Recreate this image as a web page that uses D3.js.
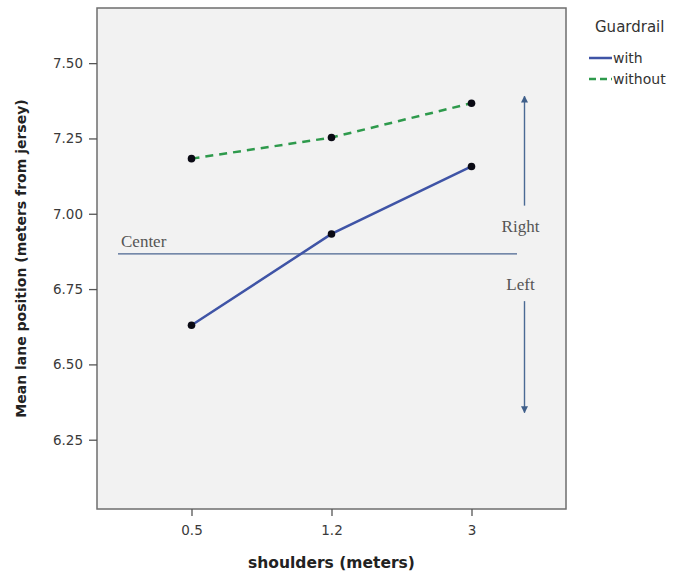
<!DOCTYPE html>
<html>
<head>
<meta charset="utf-8">
<script src="https://cdn.jsdelivr.net/npm/d3@7"></script>
<style>
  body { margin: 0; background: #fff; }
  .axis text { font-family: "DejaVu Sans", sans-serif; font-size: 13.5px; fill: #3a3a3a; }
  .axis path, .axis line { stroke: #555; stroke-width: 1.3; }
</style>
</head>
<body>
<div id="chart"></div>
<script>
// shoulder widths (categories) and guardrail series
const shoulders = ["0.5", "1.2", "3"];
const withGuardrail = [6.63, 6.933, 7.157];
const withoutGuardrail = [7.183, 7.253, 7.367];
const yTicks = [6.25, 6.50, 6.75, 7.00, 7.25, 7.50];

// annotation values (lane position)
const centerValue = 6.867;
const rightArrow = [7.027, 7.39];
const leftArrow = [6.71, 6.34];

const width = 678, height = 577;
const margin = { top: 8, right: 112, bottom: 68, left: 97 };
const w = width - margin.left - margin.right;
const h = height - margin.top - margin.bottom;

const svg = d3.select("#chart").append("svg")
  .attr("width", width)
  .attr("height", height);

const g = svg.append("g")
  .attr("transform", "translate(" + margin.left + "," + margin.top + ")");

const x = d3.scalePoint()
  .domain(shoulders)
  .range([0, w])
  .padding(0.675);

const y = d3.scaleLinear()
  .domain([6.02, 7.683])
  .range([h, 0]);

// plot background
g.append("rect")
  .attr("width", w)
  .attr("height", h)
  .attr("fill", "#f2f2f2")
  .attr("stroke", "#6e6e6e")
  .attr("stroke-width", 1.5);

// axes
g.append("g")
  .attr("class", "axis")
  .attr("transform", "translate(0," + h + ")")
  .call(d3.axisBottom(x).tickSize(7).tickPadding(9))
  .call(s => s.select(".domain").remove());

g.append("g")
  .attr("class", "axis")
  .call(d3.axisLeft(y).tickValues(yTicks).tickFormat(d3.format(".2f")).tickSize(8).tickPadding(6))
  .call(s => s.select(".domain").remove());

// axis titles
svg.append("text")
  .attr("x", margin.left + w / 2)
  .attr("y", 568)
  .attr("text-anchor", "middle")
  .style("font-family", "'DejaVu Sans', sans-serif")
  .style("font-size", "15.5px")
  .style("font-weight", "bold")
  .style("fill", "#222")
  .text("shoulders (meters)");

svg.append("text")
  .attr("transform", "translate(26," + (margin.top + h / 2) + ") rotate(-90)")
  .attr("text-anchor", "middle")
  .style("font-family", "'DejaVu Sans', sans-serif")
  .style("font-size", "14px")
  .style("font-weight", "bold")
  .style("fill", "#222")
  .text("Mean lane position (meters from jersey)");

// center line and labels
const serif = "'Liberation Serif', 'DejaVu Serif', serif";
g.append("line")
  .attr("x1", 21).attr("x2", 420)
  .attr("y1", y(centerValue)).attr("y2", y(centerValue))
  .attr("stroke", "#4a6590")
  .attr("stroke-width", 1.3);

g.append("text")
  .attr("x", 24).attr("y", y(centerValue) - 7)
  .style("font-family", serif).style("font-size", "17px").style("fill", "#555")
  .text("Center");

g.append("text")
  .attr("x", x("3") + 49).attr("y", y(centerValue) - 22)
  .attr("text-anchor", "middle")
  .style("font-family", serif).style("font-size", "17px").style("fill", "#555")
  .text("Right");

g.append("text")
  .attr("x", x("3") + 49).attr("y", y(centerValue) + 36)
  .attr("text-anchor", "middle")
  .style("font-family", serif).style("font-size", "17px").style("fill", "#555")
  .text("Left");

// arrows
svg.append("defs").append("marker")
  .attr("id", "arrow")
  .attr("viewBox", "0 0 10 10")
  .attr("refX", 9).attr("refY", 5)
  .attr("markerWidth", 5).attr("markerHeight", 5)
  .attr("orient", "auto")
  .append("path")
  .attr("d", "M0,0 L10,5 L0,10 Z")
  .attr("fill", "#3f5f8a");

[rightArrow, leftArrow].forEach(a => {
  g.append("line")
    .attr("x1", x("3") + 53).attr("x2", x("3") + 53)
    .attr("y1", y(a[0])).attr("y2", y(a[1]))
    .attr("stroke", "#4a6a94")
    .attr("stroke-width", 1.4)
    .attr("marker-end", "url(#arrow)");
});

// series lines
const line = d3.line()
  .x((d, i) => x(shoulders[i]))
  .y(d => y(d));

g.append("path")
  .datum(withGuardrail)
  .attr("fill", "none")
  .attr("stroke", "#3f54a6")
  .attr("stroke-width", 2.5)
  .attr("d", line);

g.append("path")
  .datum(withoutGuardrail)
  .attr("fill", "none")
  .attr("stroke", "#2e9a4c")
  .attr("stroke-width", 2.5)
  .attr("stroke-dasharray", "8,6")
  .attr("d", line);

// points
[withGuardrail, withoutGuardrail].forEach(series => {
  g.selectAll(null)
    .data(series)
    .enter().append("circle")
    .attr("cx", (d, i) => x(shoulders[i]))
    .attr("cy", d => y(d))
    .attr("r", 3.8)
    .attr("fill", "#0a0a14");
});

// legend
const legend = svg.append("g").attr("transform", "translate(589,0)");
legend.append("text")
  .attr("x", 6).attr("y", 32)
  .style("font-family", "'DejaVu Sans', sans-serif")
  .style("font-size", "15px").style("fill", "#333")
  .text("Guardrail");

const legendItems = [
  { label: "with", color: "#3f54a6", dash: null },
  { label: "without", color: "#2e9a4c", dash: "7,4" }
];
legendItems.forEach((d, i) => {
  const yy = 58 + i * 21;
  legend.append("line")
    .attr("x1", 0).attr("x2", 23)
    .attr("y1", yy).attr("y2", yy)
    .attr("stroke", d.color)
    .attr("stroke-width", 2.5)
    .attr("stroke-dasharray", d.dash);
  legend.append("text")
    .attr("x", 24).attr("y", yy + 5)
    .style("font-family", "'DejaVu Sans', sans-serif")
    .style("font-size", "14px").style("fill", "#333")
    .text(d.label);
});
</script>
</body>
</html>
